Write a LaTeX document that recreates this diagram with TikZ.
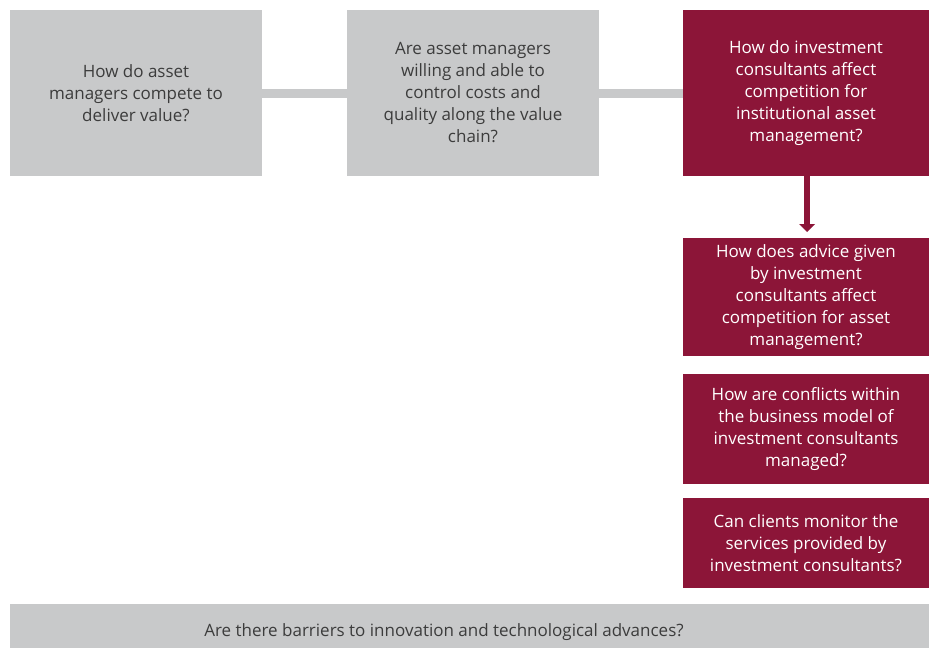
\documentclass[tikz,border=0pt]{standalone}
\usepackage{fontspec}
\setmainfont{Open Sans}
\definecolor{boxgray}{HTML}{C8C9CA}
\definecolor{maroon}{HTML}{8C1538}
\definecolor{txtgray}{HTML}{3C3C3C}
\begin{document}
\begin{tikzpicture}[x=1pt,y=-1pt,
  graybox/.style={fill=boxgray,draw=none,text=txtgray,align=center,font=\fontsize{17}{22}\selectfont,inner sep=0pt},
  redbox/.style={fill=maroon,draw=none,text=white,align=center,font=\fontsize{17}{22}\selectfont,inner sep=0pt},
  link/.style={draw=boxgray,line width=9pt}]
\useasboundingbox (0,0) rectangle (929,648);
\node[graybox,minimum width=252pt,minimum height=166pt] (b1) at (136,93) {How do asset\\managers compete to\\deliver value?};
\node[graybox,minimum width=252pt,minimum height=166pt] (b2) at (473,93) {Are asset managers\\willing and able to\\control costs and\\quality along the value\\chain?};
\node[redbox,minimum width=246pt,minimum height=166pt] (b3) at (806,93) {How do investment\\consultants affect\\competition for\\institutional asset\\management?};
\draw[link] (b1.east) -- (b2.west);
\draw[link] (b2.east) -- (b3.west);
\node[redbox,minimum width=246pt,minimum height=118pt] (b4) at (806,297) {How does advice given\\by investment\\consultants affect\\competition for asset\\management?};
\node[redbox,minimum width=246pt,minimum height=110pt] (b5) at (806,429) {How are conflicts within\\the business model of\\investment consultants\\managed?};
\node[redbox,minimum width=246pt,minimum height=90pt] (b6) at (806,543) {Can clients monitor the\\services provided by\\investment consultants?};
\node[graybox,minimum width=919pt,minimum height=44pt] (b7) at (469.5,626) {};
\node[graybox,fill=none] (b7t) at (444,632) {Are there barriers to innovation and technological advances?};
\coordinate (tip) at (807,232);
\draw[draw=maroon,line width=6pt] (b3.south -| tip) -- ([yshift=7pt]tip);
\fill[maroon] ([xshift=-8pt,yshift=8pt]tip) -- ([xshift=8pt,yshift=8pt]tip) -- (tip) -- cycle;
\end{tikzpicture}
\end{document}
